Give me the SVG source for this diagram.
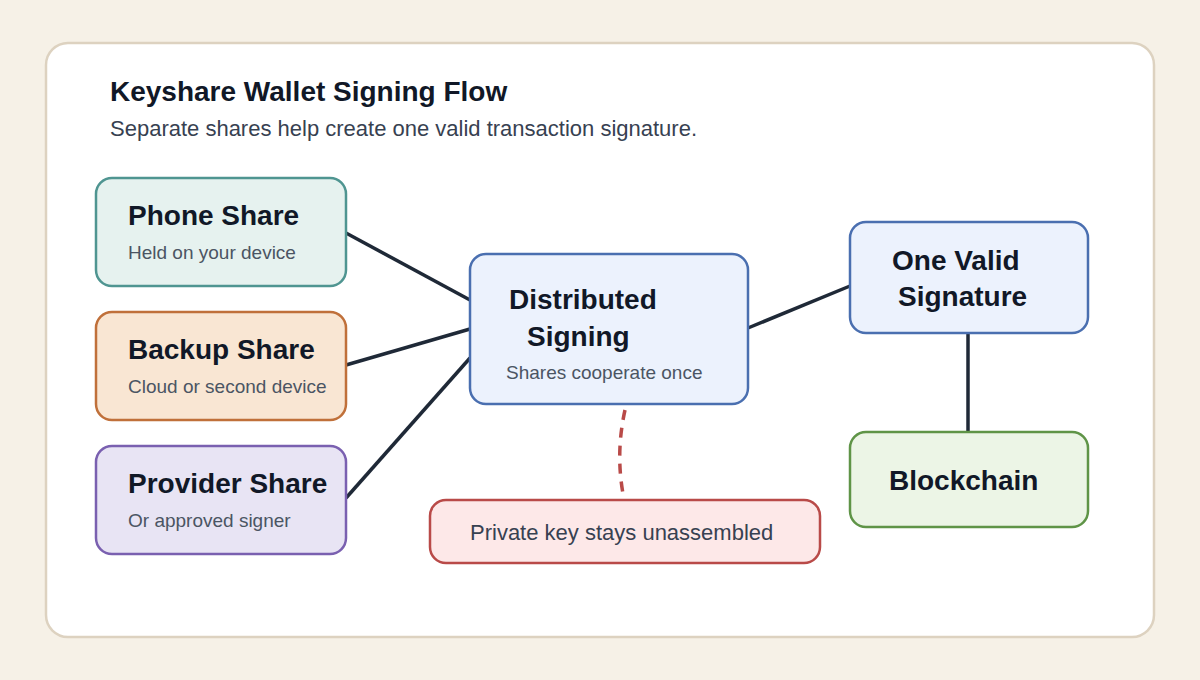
<svg xmlns="http://www.w3.org/2000/svg" width="1200" height="680" viewBox="0 0 1200 680">
<style>
.t{font-family:"Liberation Sans",Arial,sans-serif;font-weight:bold;font-size:28px;fill:#111827}
.s{font-family:"Liberation Sans",Arial,sans-serif;font-size:19px;fill:#4b5563}
.box{stroke-width:2.5}
.c{stroke:#1f2937;stroke-width:3.5;fill:none;stroke-linecap:butt}
</style>
<rect x="0" y="0" width="1200" height="680" fill="#f6f1e7"/>
<rect x="46" y="43" width="1108" height="594" rx="22" fill="#ffffff" stroke="#ddd2c0" stroke-width="2.5"/>
<text x="110" y="101" style="font-family:'Liberation Sans',Arial,sans-serif;font-weight:bold;font-size:28px;fill:#111827">Keyshare Wallet Signing Flow</text>
<text x="110" y="136" style="font-family:'Liberation Sans',Arial,sans-serif;font-size:22px;fill:#374151">Separate shares help create one valid transaction signature.</text>
<g id="connectors">
<line class="c" x1="346" y1="233" x2="470" y2="300"/>
<line class="c" x1="346" y1="365" x2="470" y2="329"/>
<line class="c" x1="346" y1="498" x2="470" y2="358"/>
<line class="c" x1="748" y1="328" x2="850" y2="286"/>
<line class="c" x1="968" y1="333" x2="968" y2="432"/>
<path d="M625,410 Q615,455 624,499" fill="none" stroke="#b94a48" stroke-width="3.5" stroke-dasharray="10 8"/>
</g>
<g id="phone">
<rect class="box" x="96" y="178" width="250" height="108" rx="16" fill="#e6f2ef" stroke="#4f9591"/>
<text class="t" x="128" y="225">Phone Share</text>
<text class="s" x="128" y="259">Held on your device</text>
</g>
<g id="backup">
<rect class="box" x="96" y="312" width="250" height="108" rx="16" fill="#f9e6d3" stroke="#c0703a"/>
<text class="t" x="128" y="359">Backup Share</text>
<text class="s" x="128" y="393">Cloud or second device</text>
</g>
<g id="provider">
<rect class="box" x="96" y="446" width="250" height="108" rx="16" fill="#e8e4f4" stroke="#7a60b0"/>
<text class="t" x="128" y="493">Provider Share</text>
<text class="s" x="128" y="527">Or approved signer</text>
</g>
<g id="distributed">
<rect class="box" x="470" y="254" width="278" height="150" rx="16" fill="#ecf2fd" stroke="#4a6fb0"/>
<text class="t" x="509" y="309">Distributed</text>
<text class="t" x="527" y="346">Signing</text>
<text class="s" x="506" y="379">Shares cooperate once</text>
</g>
<g id="signature">
<rect class="box" x="850" y="222" width="238" height="111" rx="16" fill="#ecf2fd" stroke="#4a6fb0"/>
<text class="t" x="892" y="270">One Valid</text>
<text class="t" x="898" y="306">Signature</text>
</g>
<g id="blockchain">
<rect class="box" x="850" y="432" width="238" height="95" rx="16" fill="#ecf5e6" stroke="#5f9447"/>
<text class="t" x="889" y="490">Blockchain</text>
</g>
<g id="privatekey">
<rect class="box" x="430" y="500" width="390" height="63" rx="16" fill="#fde8e8" stroke="#b94a48"/>
<text x="470" y="540" style="font-family:'Liberation Sans',Arial,sans-serif;font-size:22px;fill:#374151">Private key stays unassembled</text>
</g>
</svg>
